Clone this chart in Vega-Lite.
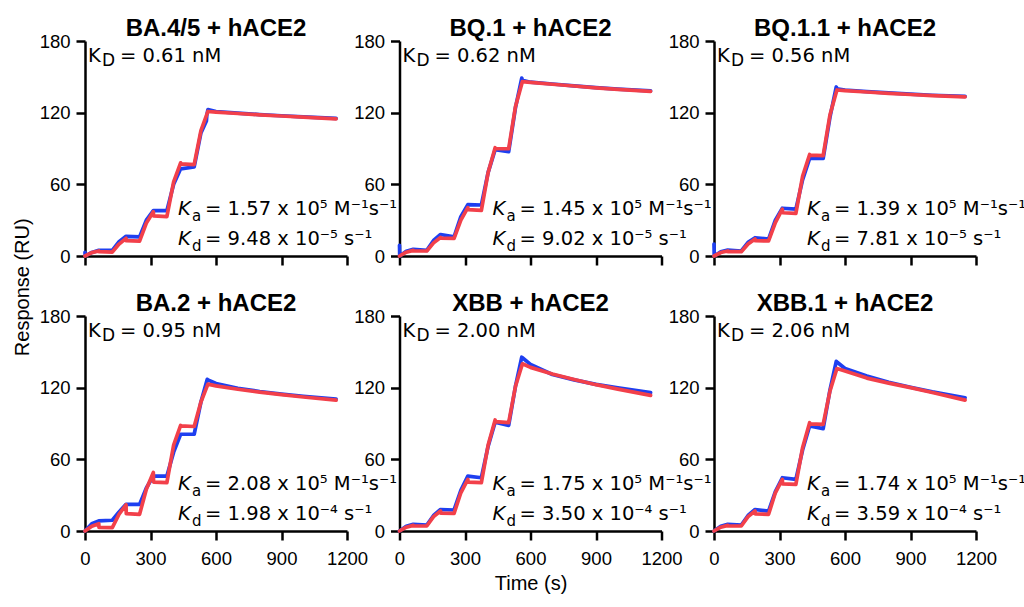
{
"$schema": "https://vega.github.io/schema/vega-lite/v6.json",
"background": "white",
"padding": {"left": 13, "top": 17, "right": 5, "bottom": 5},
"title": {"text": "Response (RU)", "orient": "left", "anchor": "middle", "frame": "bounds", "font": "Liberation Sans", "fontSize": 20, "fontWeight": "normal", "offset": 6, "dx": 18, "color": "#000"},
"config": {
 "view": {"stroke": null},
 "axis": {"grid": false, "format": "d", "domainColor": "#000", "domainWidth": 2.5, "tickColor": "#000", "tickWidth": 2.5, "tickSize": 9, "labelFont": "Liberation Sans", "labelFontSize": 18.5, "labelColor": "#000", "labelFlush": false, "titleFont": "Liberation Sans", "titleFontSize": 20, "titleFontWeight": "normal", "titleColor": "#000"},
 "axisX": {"labelPadding": 9, "titlePadding": 6},
 "axisY": {"labelPadding": 6},
 "title": {"font": "Liberation Sans", "fontSize": 24, "fontWeight": "bold", "color": "#000", "offset": -9},
 "line": {"strokeWidth": 3.7, "strokeJoin": "round", "strokeCap": "round"},
 "style": {
  "ann": {"font": "DejaVu Sans", "fontSize": 19.5, "align": "left", "baseline": "alphabetic", "fill": "#000"},
  "annI": {"font": "DejaVu Sans", "fontSize": 19.5, "fontStyle": "italic", "align": "left", "baseline": "alphabetic", "fill": "#000"},
  "sub": {"font": "DejaVu Sans", "fontSize": 15, "align": "left", "baseline": "alphabetic", "dy": 6, "fill": "#000"},
  "subD": {"font": "DejaVu Sans", "fontSize": 17, "align": "left", "baseline": "alphabetic", "dy": 4.5, "fill": "#000"}
 }
},
"datasets": {
 "notes": [
  {"p": "BA.4/5", "kD": "= 0.61 nM", "ka": "= 1.57 x 10⁵ M⁻¹s⁻¹", "kd": "= 9.48 x 10⁻⁵ s⁻¹"},
  {"p": "BQ.1", "kD": "= 0.62 nM", "ka": "= 1.45 x 10⁵ M⁻¹s⁻¹", "kd": "= 9.02 x 10⁻⁵ s⁻¹"},
  {"p": "BQ.1.1", "kD": "= 0.56 nM", "ka": "= 1.39 x 10⁵ M⁻¹s⁻¹", "kd": "= 7.81 x 10⁻⁵ s⁻¹"},
  {"p": "BA.2", "kD": "= 0.95 nM", "ka": "= 2.08 x 10⁵ M⁻¹s⁻¹", "kd": "= 1.98 x 10⁻⁴ s⁻¹"},
  {"p": "XBB", "kD": "= 2.00 nM", "ka": "= 1.75 x 10⁵ M⁻¹s⁻¹", "kd": "= 3.50 x 10⁻⁴ s⁻¹"},
  {"p": "XBB.1", "kD": "= 2.06 nM", "ka": "= 1.74 x 10⁵ M⁻¹s⁻¹", "kd": "= 3.59 x 10⁻⁴ s⁻¹"}
 ],
 "curves": [
  {"p":"BA.4/5","s":"data","t":0,"r":3},{"p":"BA.4/5","s":"data","t":1,"r":0},{"p":"BA.4/5","s":"data","t":31,"r":3},{"p":"BA.4/5","s":"data","t":63,"r":4.7},{"p":"BA.4/5","s":"data","t":125,"r":4.7},{"p":"BA.4/5","s":"data","t":156,"r":12},{"p":"BA.4/5","s":"data","t":188,"r":16.5},{"p":"BA.4/5","s":"data","t":250,"r":16},{"p":"BA.4/5","s":"data","t":281,"r":30},{"p":"BA.4/5","s":"data","t":313,"r":38},{"p":"BA.4/5","s":"data","t":375,"r":38},{"p":"BA.4/5","s":"data","t":406,"r":60},{"p":"BA.4/5","s":"data","t":438,"r":73},{"p":"BA.4/5","s":"data","t":500,"r":74.5},{"p":"BA.4/5","s":"data","t":531,"r":103},{"p":"BA.4/5","s":"data","t":556,"r":113},{"p":"BA.4/5","s":"data","t":558,"r":118},{"p":"BA.4/5","s":"data","t":563,"r":122.5},{"p":"BA.4/5","s":"data","t":600,"r":121},{"p":"BA.4/5","s":"data","t":700,"r":119.6},{"p":"BA.4/5","s":"data","t":800,"r":118.4},{"p":"BA.4/5","s":"data","t":900,"r":117.4},{"p":"BA.4/5","s":"data","t":1000,"r":116.4},{"p":"BA.4/5","s":"data","t":1150,"r":115.2},
  {"p":"BA.4/5","s":"fit","t":0,"r":0},{"p":"BA.4/5","s":"fit","t":31,"r":2.8},{"p":"BA.4/5","s":"fit","t":63,"r":4.2},{"p":"BA.4/5","s":"fit","t":64,"r":3.6},{"p":"BA.4/5","s":"fit","t":125,"r":3.3},{"p":"BA.4/5","s":"fit","t":156,"r":10},{"p":"BA.4/5","s":"fit","t":188,"r":14.8},{"p":"BA.4/5","s":"fit","t":189,"r":12.8},{"p":"BA.4/5","s":"fit","t":250,"r":12.4},{"p":"BA.4/5","s":"fit","t":281,"r":27.5},{"p":"BA.4/5","s":"fit","t":313,"r":37},{"p":"BA.4/5","s":"fit","t":314,"r":33.6},{"p":"BA.4/5","s":"fit","t":375,"r":33},{"p":"BA.4/5","s":"fit","t":406,"r":62},{"p":"BA.4/5","s":"fit","t":438,"r":78},{"p":"BA.4/5","s":"fit","t":439,"r":77.2},{"p":"BA.4/5","s":"fit","t":500,"r":76.5},{"p":"BA.4/5","s":"fit","t":531,"r":105},{"p":"BA.4/5","s":"fit","t":563,"r":121},{"p":"BA.4/5","s":"fit","t":600,"r":120.5},{"p":"BA.4/5","s":"fit","t":700,"r":119.3},{"p":"BA.4/5","s":"fit","t":800,"r":118.2},{"p":"BA.4/5","s":"fit","t":900,"r":117.2},{"p":"BA.4/5","s":"fit","t":1000,"r":116.2},{"p":"BA.4/5","s":"fit","t":1150,"r":114.8},
  {"p":"BQ.1","s":"data","t":0,"r":9},{"p":"BQ.1","s":"data","t":1,"r":0},{"p":"BQ.1","s":"data","t":31,"r":4},{"p":"BQ.1","s":"data","t":63,"r":5.6},{"p":"BQ.1","s":"data","t":125,"r":4.7},{"p":"BQ.1","s":"data","t":156,"r":13},{"p":"BQ.1","s":"data","t":188,"r":18},{"p":"BQ.1","s":"data","t":250,"r":16},{"p":"BQ.1","s":"data","t":281,"r":33},{"p":"BQ.1","s":"data","t":313,"r":43},{"p":"BQ.1","s":"data","t":375,"r":42.7},{"p":"BQ.1","s":"data","t":406,"r":70},{"p":"BQ.1","s":"data","t":438,"r":89},{"p":"BQ.1","s":"data","t":500,"r":87.3},{"p":"BQ.1","s":"data","t":531,"r":124},{"p":"BQ.1","s":"data","t":560,"r":149},{"p":"BQ.1","s":"data","t":563,"r":147},{"p":"BQ.1","s":"data","t":600,"r":145.5},{"p":"BQ.1","s":"data","t":700,"r":144},{"p":"BQ.1","s":"data","t":800,"r":142.5},{"p":"BQ.1","s":"data","t":900,"r":141},{"p":"BQ.1","s":"data","t":1000,"r":139.7},{"p":"BQ.1","s":"data","t":1150,"r":138.3},
  {"p":"BQ.1","s":"fit","t":0,"r":0},{"p":"BQ.1","s":"fit","t":31,"r":3.2},{"p":"BQ.1","s":"fit","t":63,"r":4.7},{"p":"BQ.1","s":"fit","t":64,"r":4.3},{"p":"BQ.1","s":"fit","t":125,"r":4.2},{"p":"BQ.1","s":"fit","t":156,"r":11},{"p":"BQ.1","s":"fit","t":188,"r":15.5},{"p":"BQ.1","s":"fit","t":189,"r":14.9},{"p":"BQ.1","s":"fit","t":250,"r":14.8},{"p":"BQ.1","s":"fit","t":281,"r":30},{"p":"BQ.1","s":"fit","t":313,"r":40.5},{"p":"BQ.1","s":"fit","t":314,"r":38.8},{"p":"BQ.1","s":"fit","t":375,"r":38.2},{"p":"BQ.1","s":"fit","t":406,"r":70},{"p":"BQ.1","s":"fit","t":438,"r":90.7},{"p":"BQ.1","s":"fit","t":439,"r":90},{"p":"BQ.1","s":"fit","t":500,"r":89.8},{"p":"BQ.1","s":"fit","t":531,"r":125},{"p":"BQ.1","s":"fit","t":563,"r":146},{"p":"BQ.1","s":"fit","t":600,"r":145.3},{"p":"BQ.1","s":"fit","t":700,"r":143.8},{"p":"BQ.1","s":"fit","t":800,"r":142.3},{"p":"BQ.1","s":"fit","t":900,"r":140.8},{"p":"BQ.1","s":"fit","t":1000,"r":139.5},{"p":"BQ.1","s":"fit","t":1150,"r":137.8},
  {"p":"BQ.1.1","s":"data","t":0,"r":10},{"p":"BQ.1.1","s":"data","t":1,"r":0},{"p":"BQ.1.1","s":"data","t":31,"r":3.5},{"p":"BQ.1.1","s":"data","t":63,"r":5},{"p":"BQ.1.1","s":"data","t":125,"r":4.2},{"p":"BQ.1.1","s":"data","t":156,"r":11.5},{"p":"BQ.1.1","s":"data","t":188,"r":15.3},{"p":"BQ.1.1","s":"data","t":250,"r":14.2},{"p":"BQ.1.1","s":"data","t":281,"r":30},{"p":"BQ.1.1","s":"data","t":313,"r":40},{"p":"BQ.1.1","s":"data","t":375,"r":39.3},{"p":"BQ.1.1","s":"data","t":406,"r":64},{"p":"BQ.1.1","s":"data","t":438,"r":81.7},{"p":"BQ.1.1","s":"data","t":500,"r":81.7},{"p":"BQ.1.1","s":"data","t":531,"r":116},{"p":"BQ.1.1","s":"data","t":560,"r":141.5},{"p":"BQ.1.1","s":"data","t":563,"r":140},{"p":"BQ.1.1","s":"data","t":600,"r":139},{"p":"BQ.1.1","s":"data","t":700,"r":137.6},{"p":"BQ.1.1","s":"data","t":800,"r":136.5},{"p":"BQ.1.1","s":"data","t":900,"r":135.5},{"p":"BQ.1.1","s":"data","t":1000,"r":134.6},{"p":"BQ.1.1","s":"data","t":1150,"r":133.6},
  {"p":"BQ.1.1","s":"fit","t":0,"r":0},{"p":"BQ.1.1","s":"fit","t":31,"r":2.9},{"p":"BQ.1.1","s":"fit","t":63,"r":4.2},{"p":"BQ.1.1","s":"fit","t":64,"r":3.7},{"p":"BQ.1.1","s":"fit","t":125,"r":3.6},{"p":"BQ.1.1","s":"fit","t":156,"r":10},{"p":"BQ.1.1","s":"fit","t":188,"r":14.2},{"p":"BQ.1.1","s":"fit","t":189,"r":12.8},{"p":"BQ.1.1","s":"fit","t":250,"r":12.6},{"p":"BQ.1.1","s":"fit","t":281,"r":28},{"p":"BQ.1.1","s":"fit","t":313,"r":39.3},{"p":"BQ.1.1","s":"fit","t":314,"r":36.2},{"p":"BQ.1.1","s":"fit","t":375,"r":35.7},{"p":"BQ.1.1","s":"fit","t":406,"r":67},{"p":"BQ.1.1","s":"fit","t":438,"r":85},{"p":"BQ.1.1","s":"fit","t":439,"r":84.4},{"p":"BQ.1.1","s":"fit","t":500,"r":84},{"p":"BQ.1.1","s":"fit","t":531,"r":118},{"p":"BQ.1.1","s":"fit","t":563,"r":139},{"p":"BQ.1.1","s":"fit","t":600,"r":138.5},{"p":"BQ.1.1","s":"fit","t":700,"r":137.3},{"p":"BQ.1.1","s":"fit","t":800,"r":136.2},{"p":"BQ.1.1","s":"fit","t":900,"r":135.2},{"p":"BQ.1.1","s":"fit","t":1000,"r":134.3},{"p":"BQ.1.1","s":"fit","t":1150,"r":133.2},
  {"p":"BA.2","s":"data","t":0,"r":0},{"p":"BA.2","s":"data","t":31,"r":6},{"p":"BA.2","s":"data","t":63,"r":8.4},{"p":"BA.2","s":"data","t":125,"r":9},{"p":"BA.2","s":"data","t":156,"r":16},{"p":"BA.2","s":"data","t":188,"r":22.3},{"p":"BA.2","s":"data","t":250,"r":22.3},{"p":"BA.2","s":"data","t":281,"r":36},{"p":"BA.2","s":"data","t":313,"r":46},{"p":"BA.2","s":"data","t":375,"r":46},{"p":"BA.2","s":"data","t":406,"r":66},{"p":"BA.2","s":"data","t":438,"r":81},{"p":"BA.2","s":"data","t":500,"r":81},{"p":"BA.2","s":"data","t":531,"r":108},{"p":"BA.2","s":"data","t":560,"r":127},{"p":"BA.2","s":"data","t":563,"r":126.5},{"p":"BA.2","s":"data","t":600,"r":123.5},{"p":"BA.2","s":"data","t":700,"r":119.5},{"p":"BA.2","s":"data","t":800,"r":116.8},{"p":"BA.2","s":"data","t":900,"r":114.6},{"p":"BA.2","s":"data","t":1000,"r":112.8},{"p":"BA.2","s":"data","t":1150,"r":110.5},
  {"p":"BA.2","s":"fit","t":0,"r":0},{"p":"BA.2","s":"fit","t":31,"r":4},{"p":"BA.2","s":"fit","t":63,"r":6.1},{"p":"BA.2","s":"fit","t":64,"r":3},{"p":"BA.2","s":"fit","t":125,"r":2.8},{"p":"BA.2","s":"fit","t":156,"r":14},{"p":"BA.2","s":"fit","t":188,"r":22},{"p":"BA.2","s":"fit","t":189,"r":14.5},{"p":"BA.2","s":"fit","t":250,"r":14},{"p":"BA.2","s":"fit","t":281,"r":35},{"p":"BA.2","s":"fit","t":313,"r":49},{"p":"BA.2","s":"fit","t":314,"r":41},{"p":"BA.2","s":"fit","t":375,"r":40.5},{"p":"BA.2","s":"fit","t":406,"r":72},{"p":"BA.2","s":"fit","t":438,"r":88.4},{"p":"BA.2","s":"fit","t":439,"r":88},{"p":"BA.2","s":"fit","t":500,"r":87.5},{"p":"BA.2","s":"fit","t":531,"r":108},{"p":"BA.2","s":"fit","t":563,"r":123},{"p":"BA.2","s":"fit","t":600,"r":121.5},{"p":"BA.2","s":"fit","t":700,"r":118.7},{"p":"BA.2","s":"fit","t":800,"r":116.3},{"p":"BA.2","s":"fit","t":900,"r":114.2},{"p":"BA.2","s":"fit","t":1000,"r":112.2},{"p":"BA.2","s":"fit","t":1150,"r":109.5},
  {"p":"XBB","s":"data","t":0,"r":0},{"p":"XBB","s":"data","t":31,"r":4},{"p":"XBB","s":"data","t":63,"r":5.6},{"p":"XBB","s":"data","t":125,"r":5},{"p":"XBB","s":"data","t":156,"r":13},{"p":"XBB","s":"data","t":188,"r":18},{"p":"XBB","s":"data","t":250,"r":17.6},{"p":"XBB","s":"data","t":281,"r":34},{"p":"XBB","s":"data","t":313,"r":46},{"p":"XBB","s":"data","t":375,"r":44.6},{"p":"XBB","s":"data","t":406,"r":71},{"p":"XBB","s":"data","t":438,"r":91},{"p":"XBB","s":"data","t":500,"r":88.4},{"p":"XBB","s":"data","t":531,"r":121},{"p":"XBB","s":"data","t":560,"r":145.5},{"p":"XBB","s":"data","t":563,"r":145},{"p":"XBB","s":"data","t":600,"r":139.5},{"p":"XBB","s":"data","t":700,"r":131},{"p":"XBB","s":"data","t":800,"r":126.5},{"p":"XBB","s":"data","t":900,"r":122.8},{"p":"XBB","s":"data","t":1000,"r":119.8},{"p":"XBB","s":"data","t":1150,"r":115.8},
  {"p":"XBB","s":"fit","t":0,"r":0},{"p":"XBB","s":"fit","t":31,"r":3.2},{"p":"XBB","s":"fit","t":63,"r":4.7},{"p":"XBB","s":"fit","t":64,"r":4.3},{"p":"XBB","s":"fit","t":125,"r":4.2},{"p":"XBB","s":"fit","t":156,"r":12},{"p":"XBB","s":"fit","t":188,"r":16.7},{"p":"XBB","s":"fit","t":189,"r":15},{"p":"XBB","s":"fit","t":250,"r":14.8},{"p":"XBB","s":"fit","t":281,"r":32},{"p":"XBB","s":"fit","t":313,"r":43.2},{"p":"XBB","s":"fit","t":314,"r":41},{"p":"XBB","s":"fit","t":375,"r":40.5},{"p":"XBB","s":"fit","t":406,"r":72},{"p":"XBB","s":"fit","t":438,"r":93},{"p":"XBB","s":"fit","t":439,"r":91.5},{"p":"XBB","s":"fit","t":500,"r":90.7},{"p":"XBB","s":"fit","t":531,"r":121},{"p":"XBB","s":"fit","t":563,"r":140},{"p":"XBB","s":"fit","t":600,"r":137},{"p":"XBB","s":"fit","t":700,"r":131.5},{"p":"XBB","s":"fit","t":800,"r":126.8},{"p":"XBB","s":"fit","t":900,"r":122.5},{"p":"XBB","s":"fit","t":1000,"r":118.8},{"p":"XBB","s":"fit","t":1150,"r":113.6},
  {"p":"XBB.1","s":"data","t":0,"r":0},{"p":"XBB.1","s":"data","t":31,"r":4},{"p":"XBB.1","s":"data","t":63,"r":5.6},{"p":"XBB.1","s":"data","t":125,"r":5},{"p":"XBB.1","s":"data","t":156,"r":13},{"p":"XBB.1","s":"data","t":188,"r":18},{"p":"XBB.1","s":"data","t":250,"r":16.7},{"p":"XBB.1","s":"data","t":281,"r":33},{"p":"XBB.1","s":"data","t":313,"r":44.6},{"p":"XBB.1","s":"data","t":375,"r":43.2},{"p":"XBB.1","s":"data","t":406,"r":68},{"p":"XBB.1","s":"data","t":438,"r":87.9},{"p":"XBB.1","s":"data","t":500,"r":85.7},{"p":"XBB.1","s":"data","t":531,"r":118},{"p":"XBB.1","s":"data","t":560,"r":142},{"p":"XBB.1","s":"data","t":563,"r":141.5},{"p":"XBB.1","s":"data","t":600,"r":136},{"p":"XBB.1","s":"data","t":700,"r":129.7},{"p":"XBB.1","s":"data","t":800,"r":124.5},{"p":"XBB.1","s":"data","t":900,"r":120.3},{"p":"XBB.1","s":"data","t":1000,"r":116.5},{"p":"XBB.1","s":"data","t":1150,"r":111.6},
  {"p":"XBB.1","s":"fit","t":0,"r":0},{"p":"XBB.1","s":"fit","t":31,"r":3.2},{"p":"XBB.1","s":"fit","t":63,"r":4.7},{"p":"XBB.1","s":"fit","t":64,"r":4.3},{"p":"XBB.1","s":"fit","t":125,"r":4.2},{"p":"XBB.1","s":"fit","t":156,"r":12},{"p":"XBB.1","s":"fit","t":188,"r":16.7},{"p":"XBB.1","s":"fit","t":189,"r":14.3},{"p":"XBB.1","s":"fit","t":250,"r":14},{"p":"XBB.1","s":"fit","t":281,"r":32},{"p":"XBB.1","s":"fit","t":313,"r":43.2},{"p":"XBB.1","s":"fit","t":314,"r":39.5},{"p":"XBB.1","s":"fit","t":375,"r":39},{"p":"XBB.1","s":"fit","t":406,"r":70},{"p":"XBB.1","s":"fit","t":438,"r":90.7},{"p":"XBB.1","s":"fit","t":439,"r":89.7},{"p":"XBB.1","s":"fit","t":500,"r":89.3},{"p":"XBB.1","s":"fit","t":531,"r":117},{"p":"XBB.1","s":"fit","t":563,"r":136},{"p":"XBB.1","s":"fit","t":600,"r":134},{"p":"XBB.1","s":"fit","t":700,"r":128},{"p":"XBB.1","s":"fit","t":800,"r":123.8},{"p":"XBB.1","s":"fit","t":900,"r":120},{"p":"XBB.1","s":"fit","t":1000,"r":116},{"p":"XBB.1","s":"fit","t":1150,"r":109.6}
 ]
},
"columns": 3,
"spacing": {"row": 60, "column": 52.5},
"bounds": "flush",
"concat": [
  {"width": 262, "height": 215, "title": "BA.4/5 + hACE2", "layer": [
   {"data": {"name": "curves"}, "transform": [{"filter": "datum.p == 'BA.4/5'"}], "mark": "line", "encoding": {
    "x": {"field": "t", "type": "quantitative", "scale": {"domain": [0, 1200], "nice": false}, "axis": {"values": [0, 300, 600, 900, 1200], "labels": false, "title": null}},
    "y": {"field": "r", "type": "quantitative", "scale": {"domain": [0, 180], "nice": false}, "axis": {"values": [0, 60, 120, 180], "title": null}},
    "color": {"field": "s", "type": "nominal", "scale": {"domain": ["data", "fit"], "range": ["#1e3ff0", "#f2404a"]}, "legend": null}}},
   {"data": {"name": "notes"}, "transform": [{"filter": "datum.p == 'BA.4/5'"}], "layer": [
    {"mark": {"type": "text", "style": "ann", "text": "K"}, "encoding": {"x": {"datum": 14, "type": "quantitative"}, "y": {"datum": 162.5, "type": "quantitative"}}},
    {"mark": {"type": "text", "style": "subD", "text": "D"}, "encoding": {"x": {"datum": 78, "type": "quantitative"}, "y": {"datum": 162.5, "type": "quantitative"}}},
    {"mark": {"type": "text", "style": "ann"}, "encoding": {"x": {"datum": 160, "type": "quantitative"}, "y": {"datum": 162.5, "type": "quantitative"}, "text": {"field": "kD"}}},
    {"mark": {"type": "text", "style": "annI", "text": "K"}, "encoding": {"x": {"datum": 426, "type": "quantitative"}, "y": {"datum": 34.1, "type": "quantitative"}}},
    {"mark": {"type": "text", "style": "sub", "text": "a"}, "encoding": {"x": {"datum": 490, "type": "quantitative"}, "y": {"datum": 34.1, "type": "quantitative"}}},
    {"mark": {"type": "text", "style": "ann"}, "encoding": {"x": {"datum": 550, "type": "quantitative"}, "y": {"datum": 34.1, "type": "quantitative"}, "text": {"field": "ka"}}},
    {"mark": {"type": "text", "style": "annI", "text": "K"}, "encoding": {"x": {"datum": 426, "type": "quantitative"}, "y": {"datum": 9, "type": "quantitative"}}},
    {"mark": {"type": "text", "style": "sub", "text": "d"}, "encoding": {"x": {"datum": 490, "type": "quantitative"}, "y": {"datum": 9, "type": "quantitative"}}},
    {"mark": {"type": "text", "style": "ann"}, "encoding": {"x": {"datum": 550, "type": "quantitative"}, "y": {"datum": 9, "type": "quantitative"}, "text": {"field": "kd"}}}
   ]}
  ]},
  {"width": 262, "height": 215, "title": "BQ.1 + hACE2", "layer": [
   {"data": {"name": "curves"}, "transform": [{"filter": "datum.p == 'BQ.1'"}], "mark": "line", "encoding": {
    "x": {"field": "t", "type": "quantitative", "scale": {"domain": [0, 1200], "nice": false}, "axis": {"values": [0, 300, 600, 900, 1200], "labels": false, "title": null}},
    "y": {"field": "r", "type": "quantitative", "scale": {"domain": [0, 180], "nice": false}, "axis": {"values": [0, 60, 120, 180], "title": null}},
    "color": {"field": "s", "type": "nominal", "scale": {"domain": ["data", "fit"], "range": ["#1e3ff0", "#f2404a"]}, "legend": null}}},
   {"data": {"name": "notes"}, "transform": [{"filter": "datum.p == 'BQ.1'"}], "layer": [
    {"mark": {"type": "text", "style": "ann", "text": "K"}, "encoding": {"x": {"datum": 14, "type": "quantitative"}, "y": {"datum": 162.5, "type": "quantitative"}}},
    {"mark": {"type": "text", "style": "subD", "text": "D"}, "encoding": {"x": {"datum": 78, "type": "quantitative"}, "y": {"datum": 162.5, "type": "quantitative"}}},
    {"mark": {"type": "text", "style": "ann"}, "encoding": {"x": {"datum": 160, "type": "quantitative"}, "y": {"datum": 162.5, "type": "quantitative"}, "text": {"field": "kD"}}},
    {"mark": {"type": "text", "style": "annI", "text": "K"}, "encoding": {"x": {"datum": 426, "type": "quantitative"}, "y": {"datum": 34.1, "type": "quantitative"}}},
    {"mark": {"type": "text", "style": "sub", "text": "a"}, "encoding": {"x": {"datum": 490, "type": "quantitative"}, "y": {"datum": 34.1, "type": "quantitative"}}},
    {"mark": {"type": "text", "style": "ann"}, "encoding": {"x": {"datum": 550, "type": "quantitative"}, "y": {"datum": 34.1, "type": "quantitative"}, "text": {"field": "ka"}}},
    {"mark": {"type": "text", "style": "annI", "text": "K"}, "encoding": {"x": {"datum": 426, "type": "quantitative"}, "y": {"datum": 9, "type": "quantitative"}}},
    {"mark": {"type": "text", "style": "sub", "text": "d"}, "encoding": {"x": {"datum": 490, "type": "quantitative"}, "y": {"datum": 9, "type": "quantitative"}}},
    {"mark": {"type": "text", "style": "ann"}, "encoding": {"x": {"datum": 550, "type": "quantitative"}, "y": {"datum": 9, "type": "quantitative"}, "text": {"field": "kd"}}}
   ]}
  ]},
  {"width": 262, "height": 215, "title": "BQ.1.1 + hACE2", "layer": [
   {"data": {"name": "curves"}, "transform": [{"filter": "datum.p == 'BQ.1.1'"}], "mark": "line", "encoding": {
    "x": {"field": "t", "type": "quantitative", "scale": {"domain": [0, 1200], "nice": false}, "axis": {"values": [0, 300, 600, 900, 1200], "labels": false, "title": null}},
    "y": {"field": "r", "type": "quantitative", "scale": {"domain": [0, 180], "nice": false}, "axis": {"values": [0, 60, 120, 180], "title": null}},
    "color": {"field": "s", "type": "nominal", "scale": {"domain": ["data", "fit"], "range": ["#1e3ff0", "#f2404a"]}, "legend": null}}},
   {"data": {"name": "notes"}, "transform": [{"filter": "datum.p == 'BQ.1.1'"}], "layer": [
    {"mark": {"type": "text", "style": "ann", "text": "K"}, "encoding": {"x": {"datum": 14, "type": "quantitative"}, "y": {"datum": 162.5, "type": "quantitative"}}},
    {"mark": {"type": "text", "style": "subD", "text": "D"}, "encoding": {"x": {"datum": 78, "type": "quantitative"}, "y": {"datum": 162.5, "type": "quantitative"}}},
    {"mark": {"type": "text", "style": "ann"}, "encoding": {"x": {"datum": 160, "type": "quantitative"}, "y": {"datum": 162.5, "type": "quantitative"}, "text": {"field": "kD"}}},
    {"mark": {"type": "text", "style": "annI", "text": "K"}, "encoding": {"x": {"datum": 426, "type": "quantitative"}, "y": {"datum": 34.1, "type": "quantitative"}}},
    {"mark": {"type": "text", "style": "sub", "text": "a"}, "encoding": {"x": {"datum": 490, "type": "quantitative"}, "y": {"datum": 34.1, "type": "quantitative"}}},
    {"mark": {"type": "text", "style": "ann"}, "encoding": {"x": {"datum": 550, "type": "quantitative"}, "y": {"datum": 34.1, "type": "quantitative"}, "text": {"field": "ka"}}},
    {"mark": {"type": "text", "style": "annI", "text": "K"}, "encoding": {"x": {"datum": 426, "type": "quantitative"}, "y": {"datum": 9, "type": "quantitative"}}},
    {"mark": {"type": "text", "style": "sub", "text": "d"}, "encoding": {"x": {"datum": 490, "type": "quantitative"}, "y": {"datum": 9, "type": "quantitative"}}},
    {"mark": {"type": "text", "style": "ann"}, "encoding": {"x": {"datum": 550, "type": "quantitative"}, "y": {"datum": 9, "type": "quantitative"}, "text": {"field": "kd"}}}
   ]}
  ]},
  {"width": 262, "height": 215, "title": "BA.2 + hACE2", "layer": [
   {"data": {"name": "curves"}, "transform": [{"filter": "datum.p == 'BA.2'"}], "mark": "line", "encoding": {
    "x": {"field": "t", "type": "quantitative", "scale": {"domain": [0, 1200], "nice": false}, "axis": {"values": [0, 300, 600, 900, 1200], "title": null}},
    "y": {"field": "r", "type": "quantitative", "scale": {"domain": [0, 180], "nice": false}, "axis": {"values": [0, 60, 120, 180], "title": null}},
    "color": {"field": "s", "type": "nominal", "scale": {"domain": ["data", "fit"], "range": ["#1e3ff0", "#f2404a"]}, "legend": null}}},
   {"data": {"name": "notes"}, "transform": [{"filter": "datum.p == 'BA.2'"}], "layer": [
    {"mark": {"type": "text", "style": "ann", "text": "K"}, "encoding": {"x": {"datum": 14, "type": "quantitative"}, "y": {"datum": 162.5, "type": "quantitative"}}},
    {"mark": {"type": "text", "style": "subD", "text": "D"}, "encoding": {"x": {"datum": 78, "type": "quantitative"}, "y": {"datum": 162.5, "type": "quantitative"}}},
    {"mark": {"type": "text", "style": "ann"}, "encoding": {"x": {"datum": 160, "type": "quantitative"}, "y": {"datum": 162.5, "type": "quantitative"}, "text": {"field": "kD"}}},
    {"mark": {"type": "text", "style": "annI", "text": "K"}, "encoding": {"x": {"datum": 426, "type": "quantitative"}, "y": {"datum": 34.1, "type": "quantitative"}}},
    {"mark": {"type": "text", "style": "sub", "text": "a"}, "encoding": {"x": {"datum": 490, "type": "quantitative"}, "y": {"datum": 34.1, "type": "quantitative"}}},
    {"mark": {"type": "text", "style": "ann"}, "encoding": {"x": {"datum": 550, "type": "quantitative"}, "y": {"datum": 34.1, "type": "quantitative"}, "text": {"field": "ka"}}},
    {"mark": {"type": "text", "style": "annI", "text": "K"}, "encoding": {"x": {"datum": 426, "type": "quantitative"}, "y": {"datum": 9, "type": "quantitative"}}},
    {"mark": {"type": "text", "style": "sub", "text": "d"}, "encoding": {"x": {"datum": 490, "type": "quantitative"}, "y": {"datum": 9, "type": "quantitative"}}},
    {"mark": {"type": "text", "style": "ann"}, "encoding": {"x": {"datum": 550, "type": "quantitative"}, "y": {"datum": 9, "type": "quantitative"}, "text": {"field": "kd"}}}
   ]}
  ]},
  {"width": 262, "height": 215, "title": "XBB + hACE2", "layer": [
   {"data": {"name": "curves"}, "transform": [{"filter": "datum.p == 'XBB'"}], "mark": "line", "encoding": {
    "x": {"field": "t", "type": "quantitative", "scale": {"domain": [0, 1200], "nice": false}, "axis": {"values": [0, 300, 600, 900, 1200], "title": "Time (s)"}},
    "y": {"field": "r", "type": "quantitative", "scale": {"domain": [0, 180], "nice": false}, "axis": {"values": [0, 60, 120, 180], "title": null}},
    "color": {"field": "s", "type": "nominal", "scale": {"domain": ["data", "fit"], "range": ["#1e3ff0", "#f2404a"]}, "legend": null}}},
   {"data": {"name": "notes"}, "transform": [{"filter": "datum.p == 'XBB'"}], "layer": [
    {"mark": {"type": "text", "style": "ann", "text": "K"}, "encoding": {"x": {"datum": 14, "type": "quantitative"}, "y": {"datum": 162.5, "type": "quantitative"}}},
    {"mark": {"type": "text", "style": "subD", "text": "D"}, "encoding": {"x": {"datum": 78, "type": "quantitative"}, "y": {"datum": 162.5, "type": "quantitative"}}},
    {"mark": {"type": "text", "style": "ann"}, "encoding": {"x": {"datum": 160, "type": "quantitative"}, "y": {"datum": 162.5, "type": "quantitative"}, "text": {"field": "kD"}}},
    {"mark": {"type": "text", "style": "annI", "text": "K"}, "encoding": {"x": {"datum": 426, "type": "quantitative"}, "y": {"datum": 34.1, "type": "quantitative"}}},
    {"mark": {"type": "text", "style": "sub", "text": "a"}, "encoding": {"x": {"datum": 490, "type": "quantitative"}, "y": {"datum": 34.1, "type": "quantitative"}}},
    {"mark": {"type": "text", "style": "ann"}, "encoding": {"x": {"datum": 550, "type": "quantitative"}, "y": {"datum": 34.1, "type": "quantitative"}, "text": {"field": "ka"}}},
    {"mark": {"type": "text", "style": "annI", "text": "K"}, "encoding": {"x": {"datum": 426, "type": "quantitative"}, "y": {"datum": 9, "type": "quantitative"}}},
    {"mark": {"type": "text", "style": "sub", "text": "d"}, "encoding": {"x": {"datum": 490, "type": "quantitative"}, "y": {"datum": 9, "type": "quantitative"}}},
    {"mark": {"type": "text", "style": "ann"}, "encoding": {"x": {"datum": 550, "type": "quantitative"}, "y": {"datum": 9, "type": "quantitative"}, "text": {"field": "kd"}}}
   ]}
  ]},
  {"width": 262, "height": 215, "title": "XBB.1 + hACE2", "layer": [
   {"data": {"name": "curves"}, "transform": [{"filter": "datum.p == 'XBB.1'"}], "mark": "line", "encoding": {
    "x": {"field": "t", "type": "quantitative", "scale": {"domain": [0, 1200], "nice": false}, "axis": {"values": [0, 300, 600, 900, 1200], "title": null}},
    "y": {"field": "r", "type": "quantitative", "scale": {"domain": [0, 180], "nice": false}, "axis": {"values": [0, 60, 120, 180], "title": null}},
    "color": {"field": "s", "type": "nominal", "scale": {"domain": ["data", "fit"], "range": ["#1e3ff0", "#f2404a"]}, "legend": null}}},
   {"data": {"name": "notes"}, "transform": [{"filter": "datum.p == 'XBB.1'"}], "layer": [
    {"mark": {"type": "text", "style": "ann", "text": "K"}, "encoding": {"x": {"datum": 14, "type": "quantitative"}, "y": {"datum": 162.5, "type": "quantitative"}}},
    {"mark": {"type": "text", "style": "subD", "text": "D"}, "encoding": {"x": {"datum": 78, "type": "quantitative"}, "y": {"datum": 162.5, "type": "quantitative"}}},
    {"mark": {"type": "text", "style": "ann"}, "encoding": {"x": {"datum": 160, "type": "quantitative"}, "y": {"datum": 162.5, "type": "quantitative"}, "text": {"field": "kD"}}},
    {"mark": {"type": "text", "style": "annI", "text": "K"}, "encoding": {"x": {"datum": 426, "type": "quantitative"}, "y": {"datum": 34.1, "type": "quantitative"}}},
    {"mark": {"type": "text", "style": "sub", "text": "a"}, "encoding": {"x": {"datum": 490, "type": "quantitative"}, "y": {"datum": 34.1, "type": "quantitative"}}},
    {"mark": {"type": "text", "style": "ann"}, "encoding": {"x": {"datum": 550, "type": "quantitative"}, "y": {"datum": 34.1, "type": "quantitative"}, "text": {"field": "ka"}}},
    {"mark": {"type": "text", "style": "annI", "text": "K"}, "encoding": {"x": {"datum": 426, "type": "quantitative"}, "y": {"datum": 9, "type": "quantitative"}}},
    {"mark": {"type": "text", "style": "sub", "text": "d"}, "encoding": {"x": {"datum": 490, "type": "quantitative"}, "y": {"datum": 9, "type": "quantitative"}}},
    {"mark": {"type": "text", "style": "ann"}, "encoding": {"x": {"datum": 550, "type": "quantitative"}, "y": {"datum": 9, "type": "quantitative"}, "text": {"field": "kd"}}}
   ]}
  ]}
]
}
